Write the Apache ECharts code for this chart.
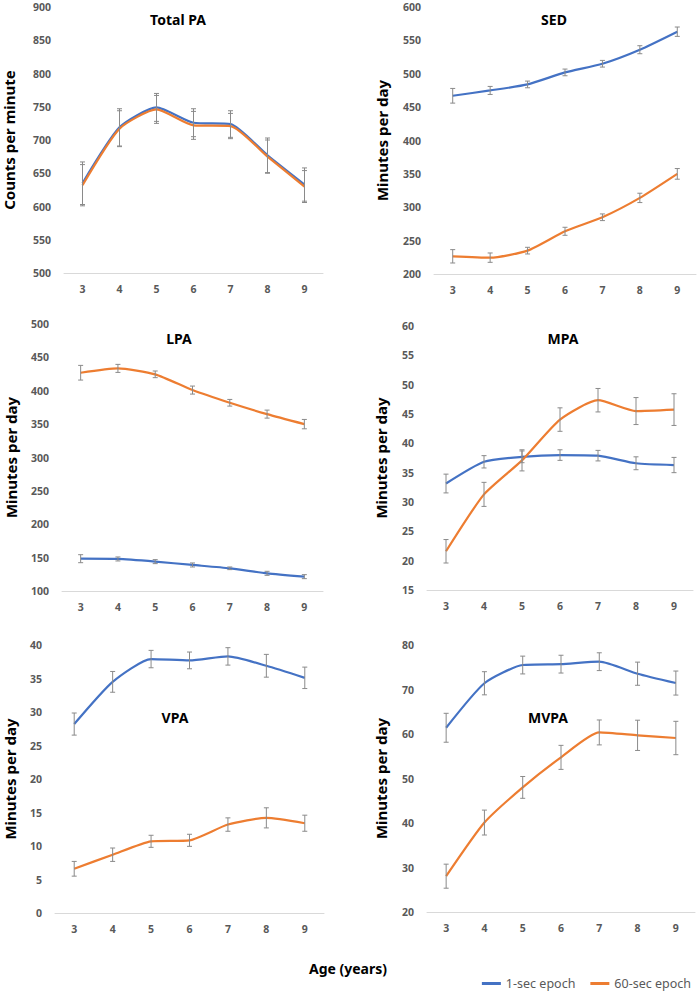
<!DOCTYPE html>
<html>
<head>
<meta charset="utf-8">
<script src="https://cdn.jsdelivr.net/npm/echarts@6/dist/echarts.min.js"></script>
<style>
  html, body { margin: 0; padding: 0; background: #ffffff; }
  #chart { width: 697px; height: 993px; }
</style>
</head>
<body>
<div id="chart"></div>
<script>
// ---------- DATA ----------
const ages = ['3', '4', '5', '6', '7', '8', '9'];
const seriesNames = ['1-sec epoch', '60-sec epoch'];

// Total PA (counts per minute)
const totalPA_1sec      = [635, 719, 749, 726, 724, 677, 633];
const totalPA_1sec_err  = [32, 28, 21, 21, 20, 26, 25];
const totalPA_60sec     = [632, 717, 746, 722, 721, 675, 630];
const totalPA_60sec_err = [31, 27, 21, 21, 19, 25, 24];

// SED (minutes per day)
const sed_1sec      = [467, 475, 484, 502, 515, 536, 563];
const sed_1sec_err  = [11, 6, 5, 5, 5, 6, 7];
const sed_60sec     = [226.5, 224.5, 235, 264, 285, 314, 350];
const sed_60sec_err = [10, 7, 5, 6, 5, 7, 8];

// LPA (minutes per day)
const lpa_1sec      = [148.4, 148, 144, 139, 134, 126.5, 121.5];
const lpa_1sec_err  = [6, 3, 3, 3, 2, 3, 3];
const lpa_60sec     = [427, 433.5, 424.6, 401, 382, 365, 350];
const lpa_60sec_err = [11, 6, 5, 6, 5, 6, 7];

// MPA (minutes per day)
const mpa_1sec      = [33.15, 36.85, 37.7, 38.0, 37.9, 36.6, 36.3];
const mpa_1sec_err  = [1.6, 1.05, 1.0, 0.9, 0.9, 1.1, 1.3];
const mpa_60sec     = [21.6, 31.3, 37.1, 44.05, 47.35, 45.5, 45.75];
const mpa_60sec_err = [2.0, 2.05, 1.8, 2.0, 2.0, 2.3, 2.7];

// VPA (minutes per day)
const vpa_1sec      = [28.2, 34.5, 37.9, 37.7, 38.3, 36.9, 35.1];
const vpa_1sec_err  = [1.65, 1.55, 1.3, 1.25, 1.3, 1.7, 1.6];
const vpa_60sec     = [6.6, 8.7, 10.7, 10.85, 13.2, 14.2, 13.4];
const vpa_60sec_err = [1.1, 1.0, 0.9, 0.9, 1.0, 1.5, 1.2];

// MVPA (minutes per day)
const mvpa_1sec      = [61.4, 71.4, 75.5, 75.7, 76.25, 73.55, 71.45];
const mvpa_1sec_err  = [3.25, 2.6, 2.0, 2.0, 2.0, 2.6, 2.7];
const mvpa_60sec     = [28.05, 40.1, 48.0, 54.75, 60.35, 59.7, 59.1];
const mvpa_60sec_err = [2.7, 2.8, 2.45, 2.7, 2.8, 3.4, 3.75];

// Panel titles, axis names, and y tick ranges [min, max, step]
const panelTitles = ['Total PA', 'SED', 'LPA', 'MPA', 'VPA', 'MVPA'];
const yAxisNames  = ['Counts per minute', 'Minutes per day', 'Minutes per day',
                     'Minutes per day', 'Minutes per day', 'Minutes per day'];
const yTicks = [[500, 900, 50], [200, 600, 50], [100, 500, 50],
                [15, 60, 5], [0, 40, 5], [20, 80, 10]];
const xAxisName = 'Age (years)';

const oneSec   = [totalPA_1sec, sed_1sec, lpa_1sec, mpa_1sec, vpa_1sec, mvpa_1sec];
const oneErr   = [totalPA_1sec_err, sed_1sec_err, lpa_1sec_err, mpa_1sec_err, vpa_1sec_err, mvpa_1sec_err];
const sixtySec = [totalPA_60sec, sed_60sec, lpa_60sec, mpa_60sec, vpa_60sec, mvpa_60sec];
const sixtyErr = [totalPA_60sec_err, sed_60sec_err, lpa_60sec_err, mpa_60sec_err, vpa_60sec_err, mvpa_60sec_err];

// ---------- LAYOUT / STYLE ----------
const FONT = 'Noto Sans';
const BLUE = '#4472C4';
const ORANGE = '#ED7D31';
const ERR = '#8a8a8a';
const LABEL = '#595959';

const grids = [
  { left: 62,  top: 7,   width: 261, height: 266 },
  { left: 434, top: 7,   width: 262, height: 267 },
  { left: 62,  top: 324, width: 261, height: 267 },
  { left: 427, top: 326, width: 266, height: 264 },
  { left: 55,  top: 645, width: 269, height: 268 },
  { left: 427, top: 645, width: 268, height: 267 }
];
const nameGaps = [48, 45, 44, 39, 38, 39];
const titlePos = [[178, 19], [554, 19], [179, 338], [563, 338], [175, 717], [548, 717]];

function errRender(params, api) {
  const x = api.value(0), y = api.value(1), e = api.value(2);
  const hi = api.coord([x, y + e]);
  const lo = api.coord([x, y - e]);
  const w = 2.5;
  const st = { stroke: ERR, lineWidth: 1 };
  return {
    type: 'group',
    children: [
      { type: 'line', shape: { x1: hi[0], y1: hi[1], x2: lo[0], y2: lo[1] }, style: st },
      { type: 'line', shape: { x1: hi[0] - w, y1: hi[1], x2: hi[0] + w, y2: hi[1] }, style: st },
      { type: 'line', shape: { x1: lo[0] - w, y1: lo[1], x2: lo[0] + w, y2: lo[1] }, style: st }
    ]
  };
}

const xAxes = [], yAxes = [], series = [], graphics = [];
grids.forEach((g, i) => {
  xAxes.push({
    type: 'category', gridIndex: i, data: ages, boundaryGap: true,
    axisLine: { lineStyle: { color: '#d9d9d9', width: 1 } },
    axisTick: { show: false },
    axisLabel: { color: LABEL, fontSize: 10.5, fontWeight: 'bold', fontFamily: FONT, margin: 10 },
    splitLine: { show: false }
  });
  yAxes.push({
    type: 'value', gridIndex: i,
    min: yTicks[i][0], max: yTicks[i][1], interval: yTicks[i][2],
    name: yAxisNames[i], nameLocation: 'middle', nameGap: nameGaps[i],
    nameTextStyle: { color: '#000', fontSize: 15, fontWeight: 'bold', fontFamily: FONT },
    axisLine: { show: false }, axisTick: { show: false },
    axisLabel: { color: LABEL, fontSize: 10.5, fontWeight: 'bold', fontFamily: FONT, margin: 13 },
    splitLine: { show: false }
  });
  series.push({
    name: seriesNames[0], type: 'line', xAxisIndex: i, yAxisIndex: i,
    data: oneSec[i], showSymbol: false, symbol: 'none', smooth: 0.2,
    lineStyle: { color: BLUE, width: 2.2 }, itemStyle: { color: BLUE }, z: 3
  });
  series.push({
    name: seriesNames[1], type: 'line', xAxisIndex: i, yAxisIndex: i,
    data: sixtySec[i], showSymbol: false, symbol: 'none', smooth: 0.2,
    lineStyle: { color: ORANGE, width: 2.2 }, itemStyle: { color: ORANGE }, z: 3
  });
  series.push({
    name: 'err1_' + i, type: 'custom', xAxisIndex: i, yAxisIndex: i,
    renderItem: errRender, encode: { x: 0, y: 1 }, silent: true, z: 4,
    data: oneSec[i].map((v, k) => [k, v, oneErr[i][k]])
  });
  series.push({
    name: 'err60_' + i, type: 'custom', xAxisIndex: i, yAxisIndex: i,
    renderItem: errRender, encode: { x: 0, y: 1 }, silent: true, z: 4,
    data: sixtySec[i].map((v, k) => [k, v, sixtyErr[i][k]])
  });
  graphics.push({
    type: 'text', x: titlePos[i][0], y: titlePos[i][1],
    style: { text: panelTitles[i], fill: '#000', font: 'bold 14px "' + FONT + '"',
             textAlign: 'center', textVerticalAlign: 'middle' }
  });
});
graphics.push({
  type: 'text', x: 348, y: 968,
  style: { text: xAxisName, fill: '#000', font: 'bold 14px "' + FONT + '"',
           textAlign: 'center', textVerticalAlign: 'middle' }
});

const chart = echarts.init(document.getElementById('chart'), null, { renderer: 'svg' });
chart.setOption({
  animation: false,
  backgroundColor: '#ffffff',
  grid: grids,
  xAxis: xAxes,
  yAxis: yAxes,
  series: series,
  graphic: graphics,
  legend: {
    data: seriesNames, right: 6, top: 977, orient: 'horizontal', padding: 0,
    icon: 'rect', itemWidth: 19, itemHeight: 3, itemGap: 15,
    textStyle: { color: LABEL, fontSize: 12.5, fontFamily: FONT }
  }
});
</script>
</body>
</html>
